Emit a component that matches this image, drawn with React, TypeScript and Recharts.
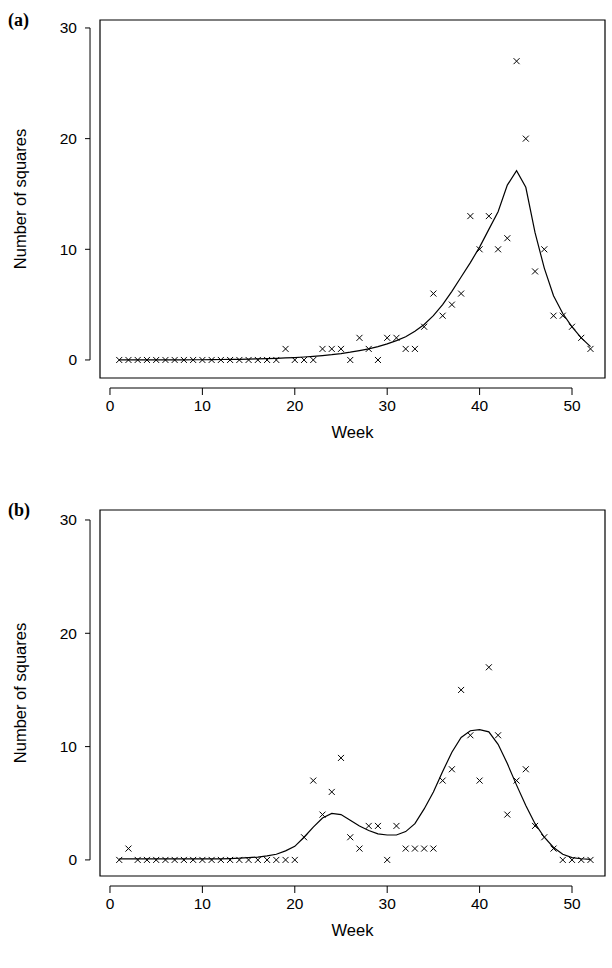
import React from 'react';
import {
  ComposedChart,
  Line,
  Scatter,
  XAxis,
  YAxis,
  ReferenceArea,
  ReferenceLine,
} from 'recharts';

const weeks = Array.from({ length: 52 }, (_, i) => i + 1);

const observedA = [
  0, 0, 0, 0, 0, 0, 0, 0, 0, 0, 0, 0, 0, 0, 0, 0, 0, 0, 1, 0,
  0, 0, 1, 1, 1, 0, 2, 1, 0, 2, 2, 1, 1, 3, 6, 4, 5, 6, 13, 10,
  13, 10, 11, 27, 20, 8, 10, 4, 4, 3, 2, 1,
];
const fittedA = [
  0, 0, 0, 0, 0, 0.01, 0.01, 0.01, 0.02, 0.02, 0.03, 0.04, 0.05, 0.06, 0.08, 0.1, 0.12, 0.15, 0.18, 0.22,
  0.27, 0.33, 0.4, 0.48, 0.58, 0.7, 0.85, 1.0, 1.2, 1.45, 1.75, 2.1, 2.6, 3.2, 4.0, 5.0, 6.2, 7.5, 8.8, 10.2,
  11.8, 13.4, 15.8, 17.1, 15.6, 11.5, 8.3, 5.8, 4.2, 3.0, 2.0, 1.2,
];

const observedB = [
  0, 1, 0, 0, 0, 0, 0, 0, 0, 0, 0, 0, 0, 0, 0, 0, 0, 0, 0, 0,
  2, 7, 4, 6, 9, 2, 1, 3, 3, 0, 3, 1, 1, 1, 1, 7, 8, 15, 11, 7,
  17, 11, 4, 7, 8, 3, 2, 1, 0, 0, 0, 0,
];
const fittedB = [
  0.1, 0.1, 0.1, 0.1, 0.1, 0.1, 0.1, 0.1, 0.1, 0.1, 0.1, 0.1, 0.12, 0.15, 0.2, 0.25, 0.35, 0.5, 0.8, 1.2,
  2.0, 2.9, 3.7, 4.1, 4.0, 3.5, 3.0, 2.6, 2.3, 2.2, 2.2, 2.5, 3.2, 4.5, 6.0, 7.8, 9.5, 10.8, 11.4, 11.5,
  11.3, 10.2, 8.5, 6.6, 4.8, 3.2, 2.0, 1.1, 0.5, 0.2, 0.1, 0.05,
];

const xTicks = [0, 10, 20, 30, 40, 50];
const yTicks = [0, 10, 20, 30];

const font = 'Liberation Sans, Arial, sans-serif';

const Cross = (props: any) => {
  const { cx, cy } = props;
  const r = 3;
  return (
    <g stroke="#000" strokeWidth={1}>
      <line x1={cx - r} y1={cy - r} x2={cx + r} y2={cy + r} />
      <line x1={cx - r} y1={cy + r} x2={cx + r} y2={cy - r} />
    </g>
  );
};

interface PanelProps {
  label: string;
  top: number;
  height: number;
  yDomain: [number, number];
  observed: number[];
  fitted: number[];
}

const xDomain: [number, number] = [-1.08, 53.57];

const Panel = ({ label, top, height, yDomain, observed, fitted }: PanelProps) => {
  const data = weeks.map((w, i) => ({ week: w, obs: observed[i], fit: fitted[i] }));
  const pxPerUnit = (height - 20 - 92) / (yDomain[1] - yDomain[0]);
  const axisY = yDomain[0] - 10 / pxPerUnit;
  const tickY = axisY - 7 / pxPerUnit;
  const axisX = -2.16;
  const tickX = axisX - 0.54;
  return (
    <div style={{ position: 'absolute', left: 0, top, width: 612, height }}>
      <div
        style={{
          position: 'absolute',
          left: 8,
          top: 10,
          fontFamily: 'Liberation Serif, serif',
          fontWeight: 'bold',
          fontSize: 18,
        }}
      >
        {label}
      </div>
      <ComposedChart width={612} height={height} data={data} margin={{ top: 20, right: 7, left: 0, bottom: 0 }}>
        <XAxis
          dataKey="week"
          type="number"
          domain={xDomain}
          allowDataOverflow
          ticks={xTicks}
          axisLine={false}
          tickLine={false}
          tickMargin={16}
          height={92}
          tick={{ fill: '#000', fontSize: 15.5, fontFamily: font }}
          label={{ value: 'Week', position: 'insideTop', offset: 48, fill: '#000', fontSize: 16.5, fontFamily: font }}
        />
        <YAxis
          type="number"
          domain={yDomain}
          allowDataOverflow
          ticks={yTicks}
          axisLine={false}
          tickLine={false}
          tickMargin={17}
          width={100}
          tick={{ fill: '#000', fontSize: 15.5, fontFamily: font }}
          label={{
            value: 'Number of squares',
            angle: -90,
            position: 'insideLeft',
            offset: 20,
            style: { textAnchor: 'middle' },
            fill: '#000',
            fontSize: 16.5,
            fontFamily: font,
          }}
        />
        <ReferenceArea x1={xDomain[0]} x2={xDomain[1]} y1={yDomain[0]} y2={yDomain[1]} fill="none" stroke="#000" strokeWidth={1.2} />
        <ReferenceLine segment={[{ x: 0, y: axisY }, { x: 50, y: axisY }]} stroke="#000" ifOverflow="visible" />
        {xTicks.map((t) => (
          <ReferenceLine key={'x' + t} segment={[{ x: t, y: axisY }, { x: t, y: tickY }]} stroke="#000" ifOverflow="visible" />
        ))}
        <ReferenceLine segment={[{ x: axisX, y: 0 }, { x: axisX, y: 30 }]} stroke="#000" ifOverflow="visible" />
        {yTicks.map((t) => (
          <ReferenceLine key={'y' + t} segment={[{ x: axisX, y: t }, { x: tickX, y: t }]} stroke="#000" ifOverflow="visible" />
        ))}
        <Line dataKey="fit" type="linear" stroke="#000" strokeWidth={1.2} dot={false} isAnimationActive={false} />
        <Scatter dataKey="obs" shape={<Cross />} isAnimationActive={false} />
      </ComposedChart>
    </div>
  );
}

export default function App() {
  return (
    <div style={{ position: 'absolute', left: 0, top: 0, width: 612, height: 968, background: '#fff' }}>
      <Panel label="(a)" top={0} height={470} yDomain={[-1.63, 30.72]} observed={observedA} fitted={fittedA} />
      <Panel label="(b)" top={490} height={478} yDomain={[-1.42, 30.88]} observed={observedB} fitted={fittedB} />
    </div>
  );
}
